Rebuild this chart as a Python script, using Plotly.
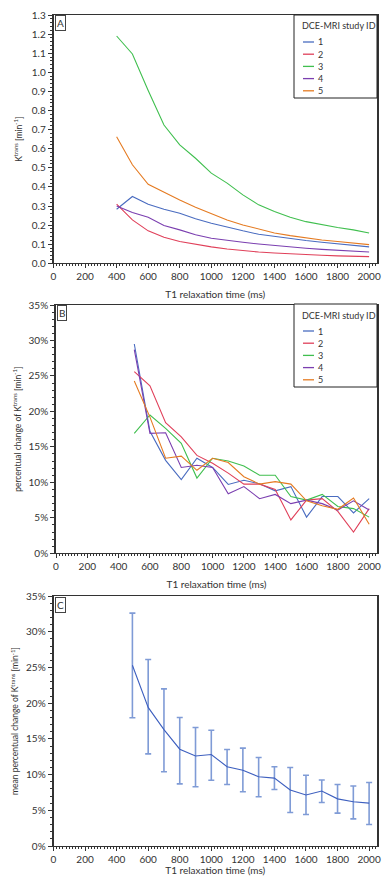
import plotly.graph_objects as go

# ---------------- data ----------------
t1_a = [400, 500, 600, 700, 800, 900, 1000, 1100, 1200, 1300, 1400, 1500, 1600, 1700, 1800, 1900, 2000]
t1_b = [500, 600, 700, 800, 900, 1000, 1100, 1200, 1300, 1400, 1500, 1600, 1700, 1800, 1900, 2000]
study_ids = ["1", "2", "3", "4", "5"]
colors = ["#4a6cc0", "#e0405a", "#40bf4f", "#7b3fb0", "#e57b22"]

# Panel A: Ktrans [min^-1]
ktrans_1 = [0.283, 0.350, 0.309, 0.283, 0.262, 0.233, 0.210, 0.189, 0.170, 0.152, 0.140, 0.128, 0.119, 0.110, 0.103, 0.094, 0.086]
ktrans_2 = [0.310, 0.227, 0.170, 0.136, 0.114, 0.098, 0.086, 0.075, 0.066, 0.059, 0.054, 0.049, 0.045, 0.042, 0.039, 0.037, 0.035]
ktrans_3 = [1.190, 1.096, 0.905, 0.724, 0.620, 0.550, 0.472, 0.420, 0.358, 0.306, 0.271, 0.241, 0.218, 0.201, 0.187, 0.175, 0.159]
ktrans_4 = [0.300, 0.266, 0.241, 0.198, 0.175, 0.149, 0.131, 0.119, 0.110, 0.101, 0.093, 0.086, 0.079, 0.073, 0.068, 0.065, 0.059]
ktrans_5 = [0.663, 0.516, 0.414, 0.371, 0.332, 0.294, 0.259, 0.227, 0.201, 0.178, 0.159, 0.145, 0.133, 0.122, 0.114, 0.105, 0.098]

# Panel B: percentual change (%)
pct_1 = [29.5, 17.2, 13.1, 10.4, 13.4, 12.1, 9.7, 10.3, 9.8, 8.8, 9.4, 5.1, 8.0, 8.0, 5.7, 7.7]
pct_2 = [25.6, 23.6, 18.4, 16.4, 13.8, 12.7, 11.3, 9.75, 9.75, 9.0, 4.7, 7.5, 7.7, 5.9, 3.0, 6.3]
pct_3 = [16.9, 19.5, 17.6, 15.5, 10.6, 13.4, 13.0, 12.3, 11.0, 11.0, 8.0, 7.5, 8.3, 6.6, 6.3, 5.1]
pct_4 = [28.7, 16.9, 17.0, 12.1, 12.4, 12.1, 8.4, 9.4, 7.7, 8.3, 7.0, 7.5, 7.0, 6.1, 7.4, 6.1]
pct_5 = [24.3, 19.2, 13.4, 13.7, 11.7, 13.4, 12.8, 10.8, 9.75, 10.1, 9.75, 7.4, 6.7, 6.2, 7.8, 4.1]

# Panel C: mean percentual change (%) with error bounds
mean_pct = [25.3, 19.4, 16.3, 13.55, 12.6, 12.8, 11.1, 10.6, 9.7, 9.5, 7.85, 7.15, 7.7, 6.6, 6.2, 6.0]
upper_pct = [32.6, 26.1, 22.0, 18.0, 16.6, 16.2, 13.5, 13.7, 12.4, 11.1, 11.0, 9.9, 9.25, 8.6, 8.4, 8.9]
lower_pct = [17.95, 12.9, 10.4, 8.7, 8.3, 9.2, 8.6, 7.6, 6.9, 7.9, 4.7, 4.4, 6.1, 4.6, 3.8, 3.0]

# ---------------- figure ----------------
W, H = 386, 876
FONT = "Lato"
TXT = "#333333"


def px(x):
    return x / W


def py(y):
    return 1 - y / H


fig = go.Figure()

ktrans = [ktrans_1, ktrans_2, ktrans_3, ktrans_4, ktrans_5]
pct = [pct_1, pct_2, pct_3, pct_4, pct_5]
for sid, col, vals in zip(study_ids, colors, ktrans):
    fig.add_trace(go.Scatter(x=t1_a, y=vals, mode="lines", name=sid,
                             line=dict(color=col, width=1.1), showlegend=False,
                             xaxis="x", yaxis="y"))
for sid, col, vals in zip(study_ids, colors, pct):
    fig.add_trace(go.Scatter(x=t1_b, y=vals, mode="lines", name=sid,
                             line=dict(color=col, width=1.1), showlegend=False,
                             xaxis="x2", yaxis="y2"))

err_plus = [u - m for u, m in zip(upper_pct, mean_pct)]
err_minus = [m - l for m, l in zip(mean_pct, lower_pct)]
fig.add_trace(go.Scatter(x=t1_b, y=mean_pct, mode="lines", name="mean",
                         line=dict(color="#3d5fbf", width=1.1), showlegend=False,
                         error_y=dict(type="data", symmetric=False, array=err_plus,
                                      arrayminus=err_minus, color="#7f9bd6",
                                      thickness=1.6, width=3),
                         xaxis="x3", yaxis="y3"))

# axis domains (pixel-measured)
x_dom = [px(53.5), px(377)]
x_dom_b = [px(56), px(377)]
dom_a = [py(263.3), py(15)]
dom_b = [py(553.3), py(305)]
dom_c = [py(846), py(596)]

xcommon = dict(range=[0, 2050], dtick=200, tick0=0, showline=True, linecolor="#333",
               linewidth=1.2, mirror=True, ticks="outside", ticklen=4, tickcolor="#333",
               showgrid=False, zeroline=False, automargin=False,
               minor=dict(dtick=20, ticks="outside", ticklen=2, tickcolor="#333"),
               tickfont=dict(family=FONT, size=10, color=TXT),
               title=dict(text="T1 relaxation time (ms)", font=dict(family=FONT, size=10, color=TXT),
                          standoff=9))
ycommon = dict(showline=True, linecolor="#333", linewidth=1.6, mirror=True,
               ticks="outside", ticklen=4, tickcolor="#333", showgrid=False, zeroline=False,
               automargin=False, tickfont=dict(family=FONT, size=10, color=TXT))

fig.update_layout(
    width=W, height=H, margin=dict(l=0, r=0, t=0, b=0, autoexpand=False),
    paper_bgcolor="white", plot_bgcolor="white", showlegend=False,
    font=dict(family=FONT, color=TXT),
    xaxis=dict(domain=x_dom, anchor="y", **xcommon),
    xaxis2=dict(domain=x_dom_b, anchor="y2", **xcommon),
    xaxis3=dict(domain=x_dom, anchor="y3", **xcommon),
    yaxis=dict(domain=dom_a, anchor="x", range=[0, 1.3], dtick=0.1, tickformat=".1f",
               minor=dict(dtick=0.02, ticks="outside", ticklen=2, tickcolor="#333"),
               title=dict(text="K<sup>trans</sup> [min<sup>-1</sup>]",
                          font=dict(family=FONT, size=8.5, color=TXT), standoff=8),
               **ycommon),
    yaxis2=dict(domain=dom_b, anchor="x2", range=[0, 35], dtick=5, ticksuffix="%",
                minor=dict(dtick=1, ticks="outside", ticklen=2, tickcolor="#333"),
                title=dict(text="percentual change of K<sup>trans</sup> [min<sup>-1</sup>]",
                           font=dict(family=FONT, size=8.5, color=TXT), standoff=6),
                **ycommon),
    yaxis3=dict(domain=dom_c, anchor="x3", range=[0, 35], dtick=5, ticksuffix="%",
                minor=dict(dtick=1, ticks="outside", ticklen=2, tickcolor="#333"),
                title=dict(text="mean percentual change of K<sup>trans</sup> [min<sup>-1</sup>]",
                           font=dict(family=FONT, size=8.5, color=TXT), standoff=6),
                **ycommon),
)

# panel letters
for letter, left, top in [("A", 54.5, 15.5), ("B", 57, 305.5), ("C", 54.5, 596.5)]:
    fig.add_annotation(x=px(left), y=py(top), xref="paper", yref="paper",
                       xanchor="left", yanchor="top", text=letter, showarrow=False,
                       font=dict(family=FONT, size=10, color=TXT),
                       bordercolor="#444", borderwidth=1, borderpad=1, bgcolor="white")

# legends (panels A and B)
for top in [15, 304]:
    fig.add_shape(type="rect", xref="paper", yref="paper",
                  x0=px(294), x1=px(377), y0=py(top + 83), y1=py(top),
                  line=dict(color="#222", width=1), fillcolor="white")
    fig.add_annotation(x=px(300), y=py(top + 11), xref="paper", yref="paper",
                       xanchor="left", yanchor="middle", text="DCE-MRI study ID",
                       showarrow=False, font=dict(family=FONT, size=9, color=TXT))
    for i, (sid, col) in enumerate(zip(study_ids, colors)):
        yy = top + 27 + i * 12.2
        fig.add_shape(type="line", xref="paper", yref="paper",
                      x0=px(303), x1=px(314), y0=py(yy), y1=py(yy),
                      line=dict(color=col, width=1.3))
        fig.add_annotation(x=px(316), y=py(yy), xref="paper", yref="paper",
                           xanchor="left", yanchor="middle", text=sid,
                           showarrow=False, font=dict(family=FONT, size=9, color=TXT))

fig.write_html("out.html", config={"displayModeBar": False},
               post_script="document.body.style.margin='0';document.body.style.overflow='hidden';")
